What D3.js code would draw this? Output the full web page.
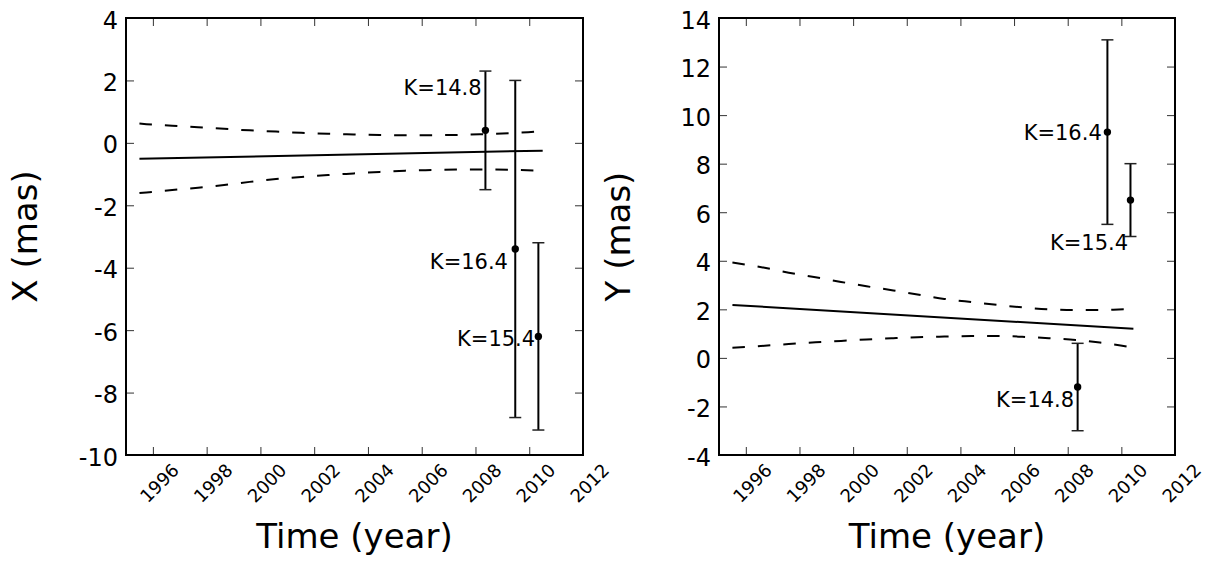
<!DOCTYPE html>
<html>
<head>
<meta charset="utf-8">
<script src="https://cdn.jsdelivr.net/npm/d3@7"></script>
<style>
  html, body { margin: 0; padding: 0; background: #fff; }
  svg { display: block; font-family: "DejaVu Sans", sans-serif; }
</style>
</head>
<body>
<svg id="chart" width="1214" height="562"></svg>
<script>
// ---------- data ----------
const yearTicks = [1996, 1998, 2000, 2002, 2004, 2006, 2008, 2010, 2012];
const xPanelTicks = [-10, -8, -6, -4, -2, 0, 2, 4];
const yPanelTicks = [-4, -2, 0, 2, 4, 6, 8, 10, 12, 14];

const magLabels = ["K=14.8", "K=16.4", "K=15.4"];
const epochs = [2008.37, 2009.48, 2010.34];

// X offsets (mas) and errors
const xValues = [0.4, -3.4, -6.2];
const xErrors = [1.9, 5.4, 3.0];
const xLabelYears = [2008.23, 2009.21, 2010.22];
const xLabelValues = [1.76, -3.79, -6.25];

// Y offsets (mas) and errors
const yValues = [-1.2, 9.3, 6.5];
const yErrors = [1.8, 3.8, 1.5];
const yLabelYears = [2008.24, 2009.27, 2010.25];
const yLabelValues = [-1.71, 9.30, 4.77];

// fitted motion (solid) and confidence band (dashed), X panel
const xFitLineYears = [1995.5, 2010.5];
const xFitLine = [-0.51, -0.25];
const xBandYears = [1995.5, 1995.76, 1996.72, 1997.68, 1998.65, 1999.6, 2000.58, 2001.52, 2002.52,
                    2003.47, 2004.44, 2005.39, 2006.36, 2007.34, 2008.31, 2009.27, 2010.23, 2010.5];
const xBandUpper = [0.62, 0.60, 0.55, 0.50, 0.45, 0.40, 0.36, 0.32, 0.29,
                    0.27, 0.25, 0.245, 0.245, 0.255, 0.28, 0.31, 0.36, 0.38];
const xBandLower = [-1.61, -1.59, -1.51, -1.44, -1.35, -1.25, -1.16, -1.09, -1.03,
                    -0.98, -0.93, -0.89, -0.87, -0.855, -0.85, -0.86, -0.885, -0.895];

// fitted motion (solid) and confidence band (dashed), Y panel
const yFitLineYears = [1995.5, 2010.45];
const yFitLine = [2.18, 1.20];
const yBandYears = [1995.5, 1996.7, 1997.6, 1998.6, 1999.55, 2000.5, 2001.5, 2002.4, 2003.4,
                    2004.5, 2005.4, 2006.3, 2007.3, 2008.3, 2009.2, 2010.2, 2010.45];
const yBandUpper = [3.93, 3.71, 3.51, 3.32, 3.13, 2.95, 2.78, 2.61, 2.43,
                    2.29, 2.18, 2.08, 2.00, 1.97, 1.97, 2.00, 2.00];
const yBandLower = [0.42, 0.50, 0.57, 0.64, 0.70, 0.76, 0.81, 0.85, 0.88,
                    0.90, 0.90, 0.87, 0.81, 0.74, 0.63, 0.47, 0.42];

// ---------- drawing ----------
const svg = d3.select("#chart");

function drawPanel(cfg) {
  const x = d3.scaleLinear().domain([1995, 2012]).range([cfg.left, cfg.right]);
  const y = d3.scaleLinear().domain(cfg.yDomain).range([cfg.bottom, cfg.top]);
  const g = svg.append("g");

  const tickStyle = sel => {
    sel.select(".domain").remove();
    sel.selectAll(".tick line").attr("stroke", "#333").attr("stroke-width", 1);
  };

  // bottom axis with rotated labels
  const gb = g.append("g").attr("transform", `translate(0,${cfg.bottom})`)
    .call(d3.axisBottom(x).tickValues(yearTicks).tickSize(-8).tickFormat(d => String(d)));
  tickStyle(gb);
  gb.selectAll(".tick text")
    .attr("y", 0).attr("x", 0).attr("dy", "0.36em")
    .attr("text-anchor", "middle")
    .attr("transform", "translate(6,28) rotate(-45)")
    .attr("fill", "#000")
    .style("font-size", "18px").style("font-family", "DejaVu Sans");

  // top axis (ticks only)
  const gt = g.append("g").attr("transform", `translate(0,${cfg.top})`)
    .call(d3.axisTop(x).tickValues(yearTicks).tickSize(-8).tickFormat(""));
  tickStyle(gt);

  // left axis
  const gl = g.append("g").attr("transform", `translate(${cfg.left},0)`)
    .call(d3.axisLeft(y).tickValues(cfg.yTicks).tickSize(-8).tickPadding(8).tickFormat(d => String(d)));
  tickStyle(gl);
  gl.selectAll(".tick text")
    .attr("dy", "0.42em").attr("fill", "#000")
    .style("font-size", "24px").style("font-family", "DejaVu Sans");

  // right axis (ticks only)
  const gr = g.append("g").attr("transform", `translate(${cfg.right},0)`)
    .call(d3.axisRight(y).tickValues(cfg.yTicks).tickSize(-8).tickFormat(""));
  tickStyle(gr);

  // band and fit
  const bandUp = cfg.bandYears.map((t, i) => [t, cfg.bandUpper[i]]);
  const bandLo = cfg.bandYears.map((t, i) => [t, cfg.bandLower[i]]);
  const fit = cfg.fitYears.map((t, i) => [t, cfg.fitValues[i]]);
  const line = d3.line().x(d => x(d[0])).y(d => y(d[1])).curve(d3.curveMonotoneX);

  [bandUp, bandLo].forEach(b => {
    g.append("path").attr("d", line(b)).attr("fill", "none")
      .attr("stroke", "#000").attr("stroke-width", 2).attr("stroke-dasharray", "12.5,13");
  });
  g.append("path").attr("d", line(fit)).attr("fill", "none")
    .attr("stroke", "#000").attr("stroke-width", 2);

  // error bars
  const pts = epochs.map((t, i) => ({ t, v: cfg.values[i], e: cfg.errors[i] }));
  const eb = g.append("g");
  pts.forEach(p => {
    const cx = x(p.t);
    eb.append("line").attr("x1", cx).attr("x2", cx)
      .attr("y1", y(p.v - p.e)).attr("y2", y(p.v + p.e))
      .attr("stroke", "#000").attr("stroke-width", 2);
    [p.v - p.e, p.v + p.e].forEach(c => {
      eb.append("line").attr("x1", cx - 6).attr("x2", cx + 6)
        .attr("y1", y(c)).attr("y2", y(c))
        .attr("stroke", "#222").attr("stroke-width", 1.5);
    });
    eb.append("circle").attr("cx", cx).attr("cy", y(p.v)).attr("r", 3.7).attr("fill", "#000");
  });

  // magnitude labels
  magLabels.forEach((lab, i) => {
    g.append("text").attr("x", x(cfg.labelYears[i])).attr("y", y(cfg.labelValues[i]))
      .attr("dy", "0.36em").attr("text-anchor", "end")
      .style("font-size", "21px").attr("fill", "#000").text(lab);
  });

  // frame
  g.append("rect").attr("x", cfg.left).attr("y", cfg.top)
    .attr("width", cfg.right - cfg.left).attr("height", cfg.bottom - cfg.top)
    .attr("fill", "none").attr("stroke", "#000").attr("stroke-width", 2);

  // axis titles
  g.append("text").attr("x", (cfg.left + cfg.right) / 2).attr("y", 548.3)
    .attr("text-anchor", "middle").style("font-size", "34px").attr("fill", "#000")
    .text("Time (year)");
  g.append("text")
    .attr("transform", `translate(${cfg.titleX},${(cfg.top + cfg.bottom) / 2}) rotate(-90)`)
    .attr("text-anchor", "middle").style("font-size", "34px").attr("fill", "#000")
    .text(cfg.yTitle);
}

drawPanel({
  left: 126, right: 583, top: 18, bottom: 455,
  yDomain: [-10, 4], yTicks: xPanelTicks,
  values: xValues, errors: xErrors,
  labelYears: xLabelYears, labelValues: xLabelValues,
  fitYears: xFitLineYears, fitValues: xFitLine,
  bandYears: xBandYears, bandUpper: xBandUpper, bandLower: xBandLower,
  yTitle: "X (mas)", titleX: 36.7
});

drawPanel({
  left: 719, right: 1175, top: 18, bottom: 455,
  yDomain: [-4, 14], yTicks: yPanelTicks,
  values: yValues, errors: yErrors,
  labelYears: yLabelYears, labelValues: yLabelValues,
  fitYears: yFitLineYears, fitValues: yFitLine,
  bandYears: yBandYears, bandUpper: yBandUpper, bandLower: yBandLower,
  yTitle: "Y (mas)", titleX: 630
});
</script>
</body>
</html>
